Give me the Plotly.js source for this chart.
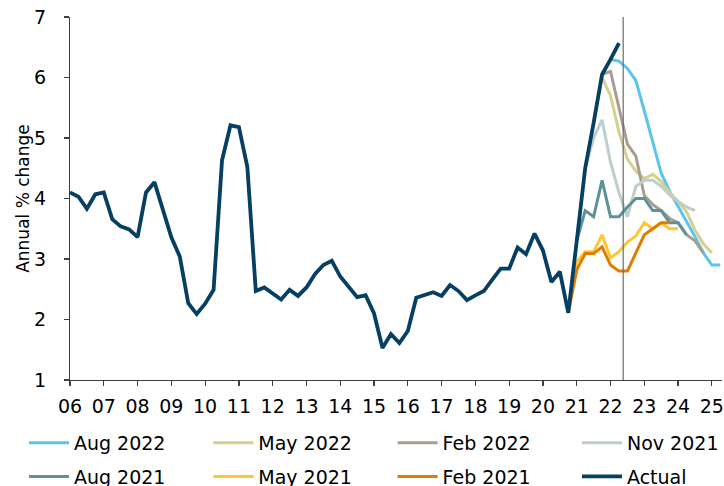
<!DOCTYPE html>
<html>
<head>
<meta charset="utf-8">
<script src="https://cdn.plot.ly/plotly-3.0.1.min.js"></script>
<style>
  html, body { margin: 0; padding: 0; background: #ffffff; }
  #chart { width: 724px; height: 486px; }
</style>
</head>
<body>
<div id="chart"></div>
<script>
// ---- Data (quarterly, annual % change) ----
const yearTicks = [2006,2007,2008,2009,2010,2011,2012,2013,2014,2015,2016,2017,2018,2019,2020,2021,2022,2023,2024,2025];
const yearTickText = ["06","07","08","09","10","11","12","13","14","15","16","17","18","19","20","21","22","23","24","25"];

// Actual: 2006 Q1 .. 2022 Q2
const actualStart = [2006, 1];
const actualValues = [
  4.10, 4.03, 3.83, 4.07,
  4.10, 3.66, 3.54, 3.49,
  3.36, 4.10, 4.27, 3.82,
  3.36, 3.04, 2.27, 2.09,
  2.26, 2.49, 4.63, 5.21,
  5.18, 4.52, 2.47, 2.53,
  2.43, 2.33, 2.49, 2.39,
  2.53, 2.75, 2.90, 2.97,
  2.71, 2.54, 2.37, 2.40,
  2.10, 1.53, 1.76, 1.61,
  1.81, 2.36, 2.40, 2.45,
  2.39, 2.57, 2.47, 2.32,
  2.40, 2.47, 2.66, 2.84,
  2.84, 3.19, 3.08, 3.42,
  3.14, 2.62, 2.79, 2.11,
  3.30, 4.50, 5.25, 6.05,
  6.30, 6.57
];

// Forecast vintages: start quarter + quarterly values
const aug2022Start = [2022, 1];
const aug2022Values = [6.30, 6.27, 6.15, 5.95, 5.45, 4.95, 4.42, 4.12, 3.86, 3.62, 3.37, 3.10, 2.90, 2.90];

const may2022Start = [2021, 4];
const may2022Values = [6.00, 5.70, 5.10, 4.65, 4.45, 4.33, 4.40, 4.28, 4.10, 3.95, 3.78, 3.48, 3.25, 3.10];

const feb2022Start = [2021, 4];
const feb2022Values = [6.05, 6.10, 5.50, 4.90, 4.70, 4.05, 3.90, 3.80, 3.67, 3.60, 3.40, 3.30, 3.10];

const nov2021Start = [2021, 2];
const nov2021Values = [4.50, 5.00, 5.30, 4.60, 4.10, 3.70, 4.20, 4.30, 4.30, 4.20, 4.06, 3.95, 3.86, 3.80];

const aug2021Start = [2021, 1];
const aug2021Values = [3.30, 3.80, 3.70, 4.30, 3.70, 3.70, 3.86, 4.00, 4.00, 3.80, 3.80, 3.60, 3.60, 3.40];

const may2021Start = [2020, 4];
const may2021Values = [2.11, 2.95, 3.12, 3.12, 3.40, 3.02, 3.12, 3.28, 3.38, 3.60, 3.50, 3.60, 3.50, 3.50];

const feb2021Start = [2020, 4];
const feb2021Values = [2.11, 2.82, 3.09, 3.09, 3.20, 2.90, 2.80, 2.80, 3.10, 3.40, 3.50, 3.60, 3.60];

// Latest data marker (between 2022 Q2 and Q3)
const cutoffYear = 2022.375;

// ---- Helpers ----
function quarterX(start, n) {
  const xs = [];
  for (let i = 0; i < n; i++) {
    const idx = (start[1] - 1) + i;
    xs.push(start[0] + idx / 4);
  }
  return xs;
}

const FONT = "DejaVu Sans, Verdana, sans-serif";

function series(name, start, values, color, width, legendId) {
  return {
    type: "scatter",
    mode: "lines",
    name: name,
    x: quarterX(start, values.length),
    y: values,
    line: { color: color, width: width },
    legend: legendId,
    hoverinfo: "x+y+name"
  };
}

const traces = [
  series("Aug 2022", aug2022Start, aug2022Values, "#5cc6ea", 3, "legend"),
  series("May 2022", may2022Start, may2022Values, "#d6d08f", 3, "legend2"),
  series("Feb 2022", feb2022Start, feb2022Values, "#a99d92", 3, "legend3"),
  series("Nov 2021", nov2021Start, nov2021Values, "#bdcfc8", 3, "legend4"),
  series("Aug 2021", aug2021Start, aug2021Values, "#5e9299", 3, "legend5"),
  series("May 2021", may2021Start, may2021Values, "#ffc633", 3, "legend6"),
  series("Feb 2021", feb2021Start, feb2021Values, "#e07c00", 3, "legend7"),
  series("Actual", actualStart, actualValues, "#053f62", 3.8, "legend8")
];

// legend grid: 4 columns x 2 rows below the plot
const legendColX = [-0.0706, 0.2121, 0.4948, 0.7776];
const legendRowY = [-0.173, -0.266];

function legendAt(col, row) {
  return {
    orientation: "h",
    xanchor: "left",
    yanchor: "middle",
    x: legendColX[col],
    y: legendRowY[row],
    itemwidth: 40,
    font: { family: FONT, size: 19, color: "#000000" },
    bgcolor: "rgba(0,0,0,0)"
  };
}

const layout = {
  width: 724,
  height: 486,
  margin: { l: 70, r: 2, t: 17, b: 106, autoexpand: false },
  paper_bgcolor: "#ffffff",
  plot_bgcolor: "#ffffff",
  font: { family: FONT, size: 19, color: "#000000" },
  showlegend: true,
  legend: legendAt(0, 0),
  legend2: legendAt(1, 0),
  legend3: legendAt(2, 0),
  legend4: legendAt(3, 0),
  legend5: legendAt(0, 1),
  legend6: legendAt(1, 1),
  legend7: legendAt(2, 1),
  legend8: legendAt(3, 1),
  xaxis: {
    range: [2006, 2025.3],
    tickmode: "array",
    tickvals: yearTicks,
    ticktext: yearTickText,
    ticks: "outside",
    ticklen: 5,
    tickwidth: 1.2,
    tickcolor: "#3a4046",
    showline: true,
    linecolor: "#3a4046",
    linewidth: 1.2,
    showgrid: false,
    zeroline: false,
    tickfont: { family: FONT, size: 19, color: "#000000" },
    ticklabelstandoff: 4
  },
  yaxis: {
    range: [1, 7],
    tickmode: "array",
    tickvals: [1, 2, 3, 4, 5, 6, 7],
    ticks: "outside",
    ticklen: 5,
    tickwidth: 1.2,
    tickcolor: "#3a4046",
    showline: true,
    linecolor: "#3a4046",
    linewidth: 1.2,
    showgrid: false,
    zeroline: false,
    tickfont: { family: FONT, size: 19, color: "#000000" },
    ticklabelstandoff: 14,
    title: { text: "Annual % change", font: { family: FONT, size: 17, color: "#000000" }, standoff: 0 }
  },
  shapes: [{
    type: "line",
    xref: "x",
    yref: "paper",
    x0: cutoffYear,
    x1: cutoffYear,
    y0: 0,
    y1: 1,
    line: { color: "#6b6b6b", width: 1.2 },
    layer: "above"
  }]
};

Plotly.newPlot("chart", traces, layout, { displayModeBar: false, staticPlot: true });
</script>
</body>
</html>
